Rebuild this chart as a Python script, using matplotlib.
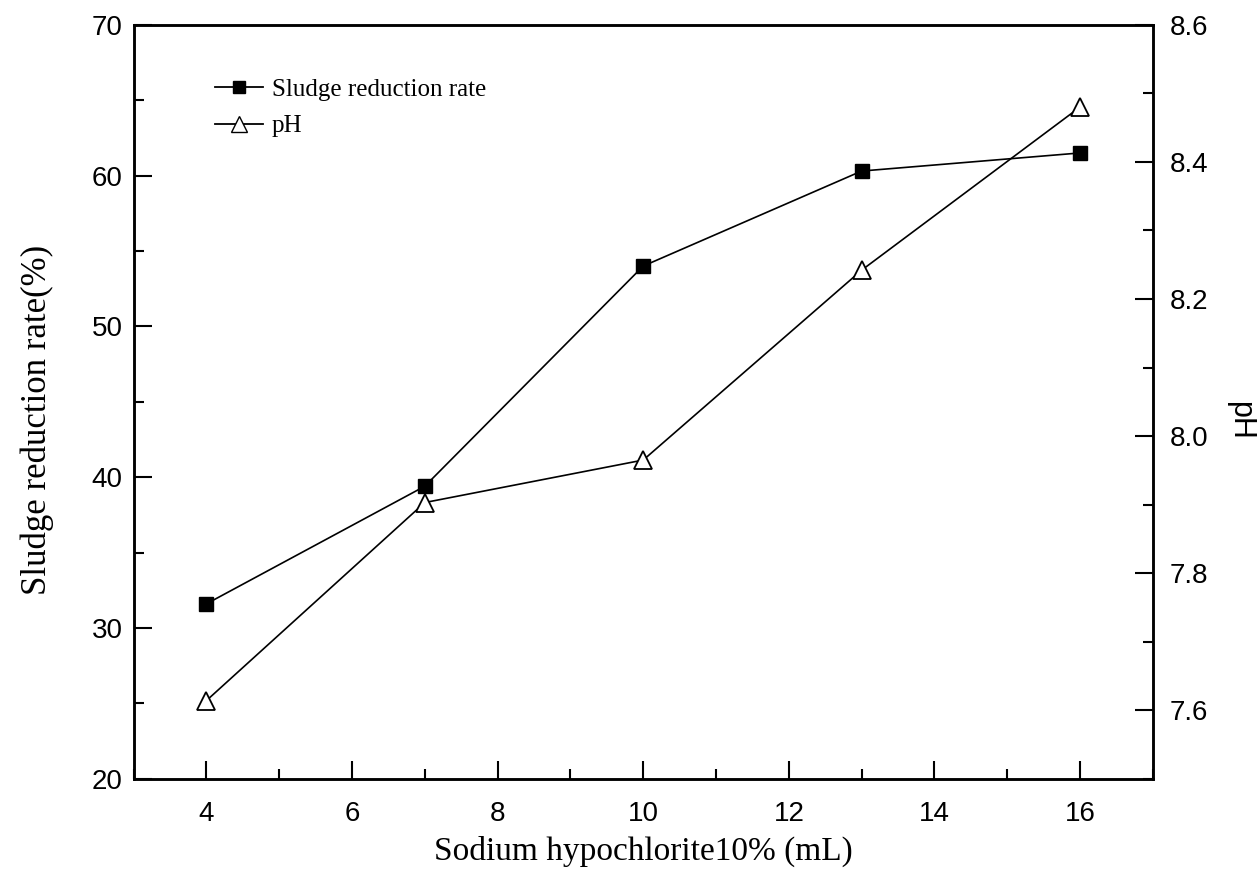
import matplotlib
matplotlib.use("Agg")
import matplotlib.pyplot as plt
from matplotlib.ticker import MultipleLocator
from matplotlib.lines import Line2D

dose = [4, 7, 10, 13, 16]
sludge_reduction = [31.6, 39.4, 54.0, 60.3, 61.5]
ph_values = [7.614, 7.903, 7.965, 8.242, 8.48]

fig = plt.figure(figsize=(12.6, 8.84), dpi=100)
ax = fig.add_axes([0.106, 0.119, 0.809, 0.853])
ax2 = ax.twinx()

ax.plot(dose, sludge_reduction, color='black', lw=1.2, marker='s', ms=10,
        mfc='black', mec='black')
ax2.plot(dose, ph_values, color='black', lw=1.2, marker='^', ms=13,
         mfc='white', mec='black', mew=1.3)

ax.set_xlim(3, 17)
ax.set_ylim(20, 70)
ax2.set_ylim(7.5, 8.6)

ax.xaxis.set_major_locator(MultipleLocator(2))
ax.xaxis.set_minor_locator(MultipleLocator(1))
ax.yaxis.set_major_locator(MultipleLocator(10))
ax.yaxis.set_minor_locator(MultipleLocator(5))
ax2.yaxis.set_minor_locator(MultipleLocator(0.1))
ax2.set_yticks([7.6, 7.8, 8.0, 8.2, 8.4, 8.6])

tickfont = 'Liberation Sans'
for a in (ax, ax2):
    a.tick_params(which='major', direction='in', length=13, width=1.5, labelsize=20)
    a.tick_params(which='minor', direction='in', length=7, width=1.5)
    for s in a.spines.values():
        s.set_linewidth(1.8)
    for lab in a.get_xticklabels() + a.get_yticklabels():
        lab.set_fontfamily(tickfont)
ax.tick_params(axis='y', which='both', right=False, pad=8)
ax.tick_params(axis='x', which='both', top=False, pad=16)
ax2.tick_params(axis='y', which='both', left=False, pad=12)

ax.set_xlabel('Sodium hypochlorite10% (mL)', fontsize=24, family='Liberation Serif', labelpad=6)
ax.set_ylabel('Sludge reduction rate(%)', fontsize=25, family='Liberation Serif')
ax.yaxis.set_label_coords(-0.078, 0.476)
ax2.set_ylabel('pH', fontsize=22, family='Liberation Sans', rotation=-90)
ax2.yaxis.set_label_coords(1.100, 0.475)

handles = [
    Line2D([], [], color='black', lw=1.3, marker='s', ms=9, mfc='black', mec='black'),
    Line2D([], [], color='black', lw=1.3, marker='^', ms=12, mfc='white', mec='black'),
]
leg = ax.legend(handles, ['Sludge reduction rate', 'pH'], loc='upper left',
                bbox_to_anchor=(0.068, 0.945), frameon=False, handlelength=1.9,
                handletextpad=0.35, labelspacing=0.55, borderpad=0,
                prop={'family': 'Liberation Serif', 'size': 18})

fig.savefig('out.png', dpi=100)
